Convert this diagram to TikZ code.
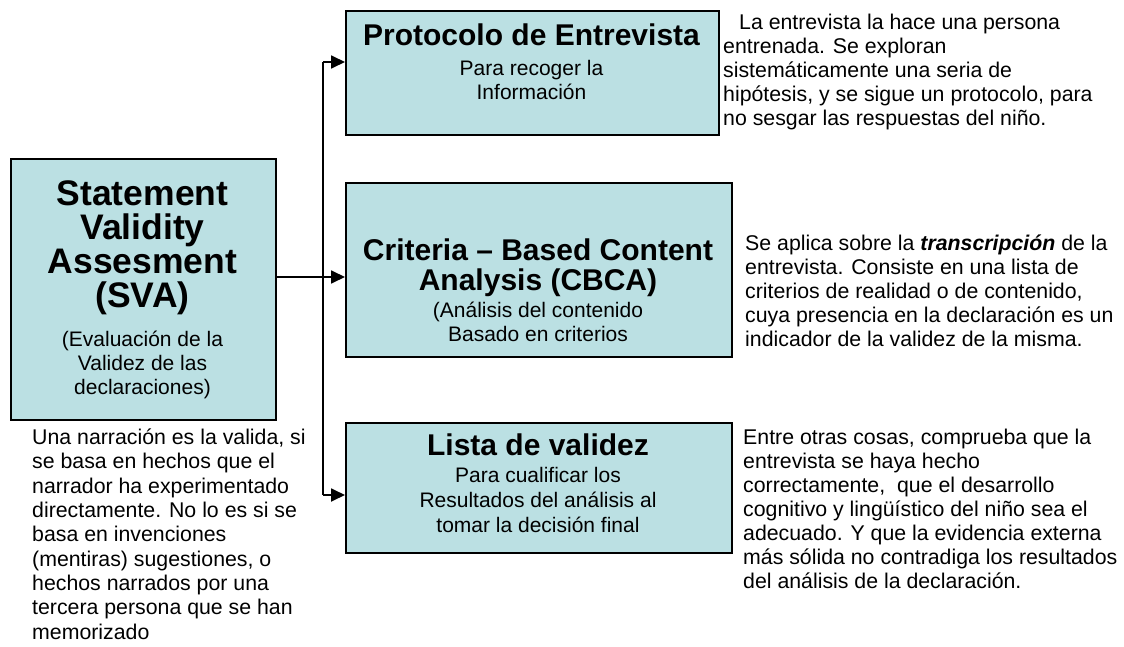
\documentclass[tikz,border=0pt]{standalone}
\usepackage{fontspec}
\setmainfont{Liberation Sans}
\usetikzlibrary{arrows.meta}
\definecolor{boxfill}{RGB}{187,224,227}
\begin{document}
\begin{tikzpicture}[x=1pt,y=-1pt,
  box/.style={draw=black, line width=2pt, fill=boxfill, anchor=north west, inner sep=0pt},
  ttl/.style={anchor=base, align=center, inner sep=0pt, font=\fontsize{30}{30}\selectfont\bfseries},
  sub/.style={anchor=base, align=center, inner sep=0pt, font=\fontsize{21}{24}\selectfont},
  note/.style={anchor=base west, align=left, inner sep=0pt, font=\fontsize{21.3}{24}\selectfont},
  conn/.style={line width=1.8pt},
  arr/.style={conn, -{Triangle[length=14pt,width=13pt]}}]
\useasboundingbox (0,0) rectangle (1124,647);
% boxes
\node[box, minimum width=265pt, minimum height=261pt] (sva) at (10,158) {};
\node[box, minimum width=373pt, minimum height=124pt] (proto) at (345,10) {};
\node[box, minimum width=386pt, minimum height=174pt] (cbca) at (345,182) {};
\node[box, minimum width=386pt, minimum height=130pt] (lista) at (345,422) {};
% box texts (anchor = baseline of last line)
\node[ttl, font=\fontsize{35.5}{34}\selectfont\bfseries] (svat) at (142.5,307) {Statement\\Validity\\Assesment\\(SVA)};
\node[sub] (svas) at (142.5,394) {(Evaluación de la\\Validez de las\\declaraciones)};
\node[ttl] (protot) at (531.5,46) {Protocolo de Entrevista};
\node[sub] (protos) at (531.5,100) {Para recoger la\\Información};
\node[ttl] (cbcat) at (538,290) {Criteria – Based Content\\Analysis (CBCA)};
\node[sub] (cbcas) at (538,341) {(Análisis del contenido\\Basado en criterios};
\node[ttl] (listat) at (538,455) {Lista de validez};
\node[sub, font=\fontsize{21}{25}\selectfont] (listas) at (538,532) {Para cualificar los\\Resultados del análisis al\\tomar la decisión final};
% side notes
\node[note] (n1) at (723,126) {\hspace*{16pt}La entrevista la hace una persona\\entrenada. Se exploran\\sistemáticamente una seria de\\hipótesis, y se sigue un protocolo, para\\no sesgar las respuestas del niño.};
\node[note] (n2) at (745,346) {Se aplica sobre la \textbf{\textit{transcripción}} de la\\entrevista. Consiste en una lista de\\criterios de realidad o de contenido,\\cuya presencia en la declaración es un\\indicador de la validez de la misma.};
\node[note] (n3) at (743,588) {Entre otras cosas, comprueba que la\\entrevista se haya hecho\\correctamente,\ \ que el desarrollo\\cognitivo y lingüístico del niño sea el\\adecuado. Y que la evidencia externa\\más sólida no contradiga los resultados\\del análisis de la declaración.};
\node[note, font=\fontsize{21.3}{24.3}\selectfont] (n4) at (32,639) {Una narración es la valida, si\\se basa en hechos que el\\narrador ha experimentado\\directamente. No lo es si se\\basa en invenciones\\(mentiras) sugestiones, o\\hechos narrados por una\\tercera persona que se han\\memorizado};
% connectors
\coordinate (jt) at (323,62);
\coordinate (jm) at (323,277);
\coordinate (jb) at (323,495);
\draw[conn] (jt) -- (jb);
\draw[arr] (sva.east |- jm) -- (cbca.west |- jm);
\draw[arr] (jt) -- (proto.west |- jt);
\draw[arr] (jb) -- (lista.west |- jb);
\end{tikzpicture}
\end{document}
